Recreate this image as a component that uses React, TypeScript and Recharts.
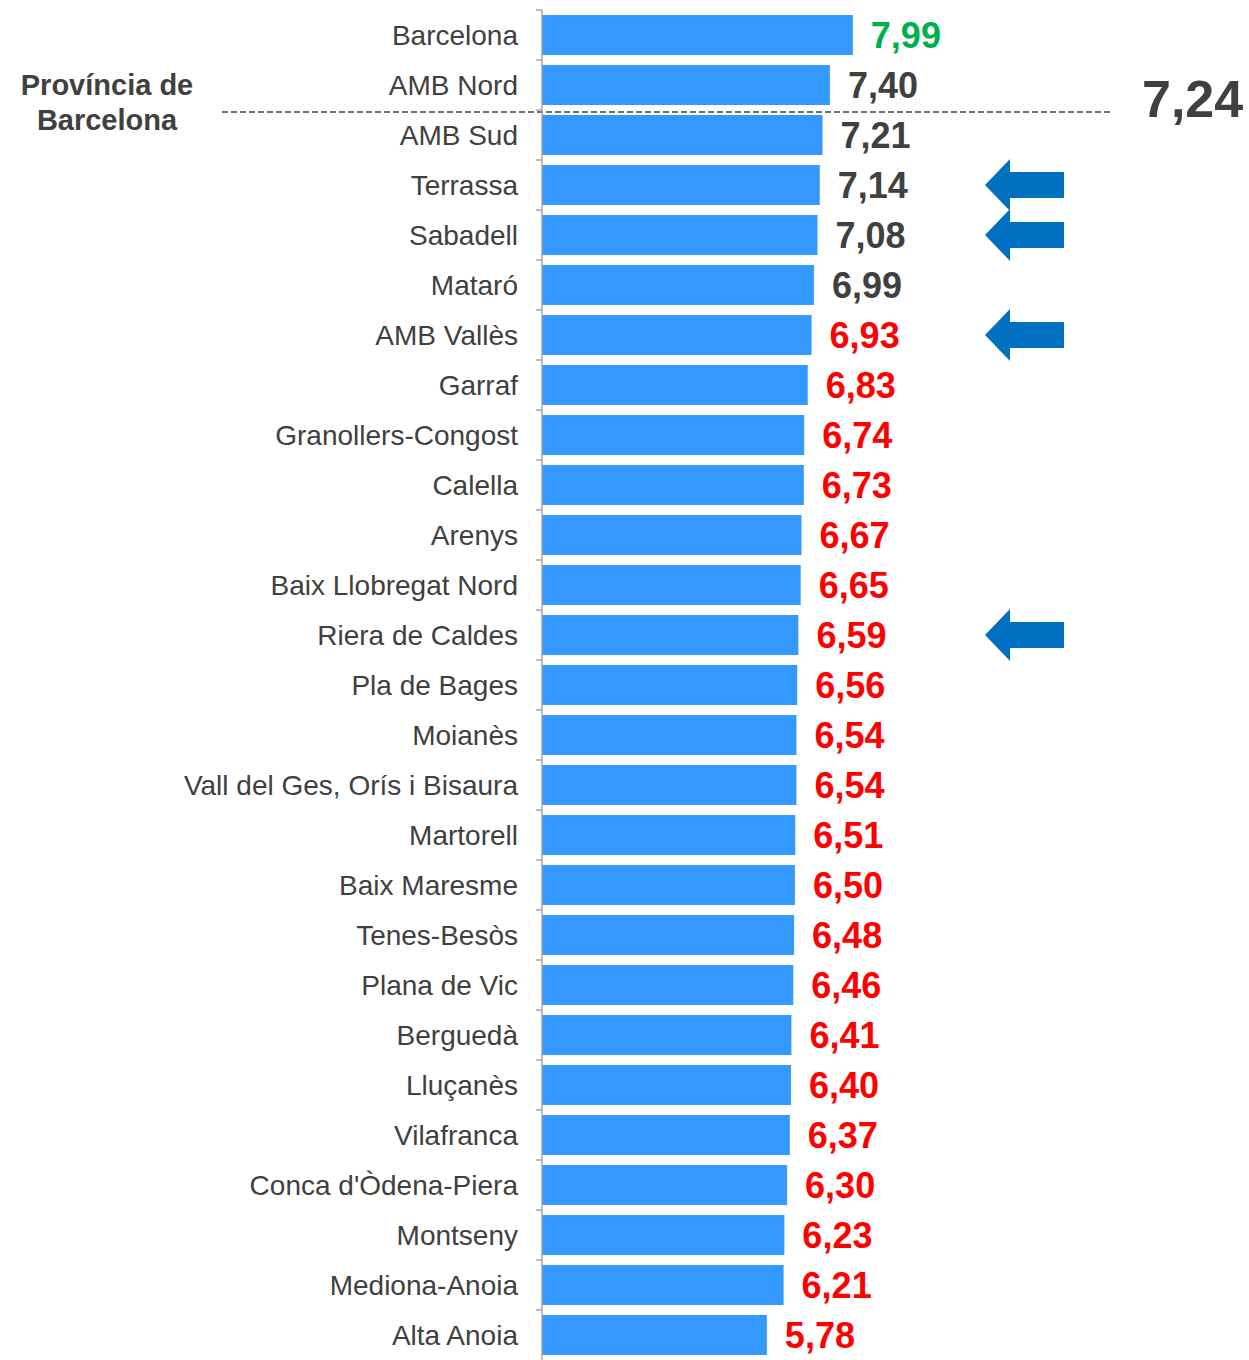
import React from 'react';
import { BarChart, Bar, XAxis, YAxis, LabelList, ReferenceLine } from 'recharts';

const categories = [
  'Barcelona', 'AMB Nord', 'AMB Sud', 'Terrassa', 'Sabadell', 'Mataró', 'AMB Vallès', 'Garraf',
  'Granollers-Congost', 'Calella', 'Arenys', 'Baix Llobregat Nord', 'Riera de Caldes', 'Pla de Bages',
  'Moianès', 'Vall del Ges, Orís i Bisaura', 'Martorell', 'Baix Maresme', 'Tenes-Besòs', 'Plana de Vic',
  'Berguedà', 'Lluçanès', 'Vilafranca', "Conca d'Òdena-Piera", 'Montseny', 'Mediona-Anoia', 'Alta Anoia',
];
const values = [
  7.99, 7.40, 7.21, 7.14, 7.08, 6.99, 6.93, 6.83, 6.74, 6.73, 6.67, 6.65, 6.59, 6.56,
  6.54, 6.54, 6.51, 6.50, 6.48, 6.46, 6.41, 6.40, 6.37, 6.30, 6.23, 6.21, 5.78,
];
const provinceAverage = 7.24;
const provinceLabel = ['Província de', 'Barcelona'];
const arrowCategories = ['Terrassa', 'Sabadell', 'AMB Vallès', 'Riera de Caldes'];

const data = categories.map((name, i) => ({ name, value: values[i] }));
const averageRow = categories.find((_, i) => values[i] < provinceAverage) as string;

const W = 1249;
const H = 1360;
const MARGIN = { top: 10, right: 139, bottom: 0, left: 0 };
const Y_AXIS_W = 542;
const AXIS_X = MARGIN.left + Y_AXIS_W;
const BAND = (H - MARGIN.top - MARGIN.bottom) / categories.length;
const FONT = '"Liberation Sans", Arial, sans-serif';
const TEXT = '#404040';
const AXIS_GRAY = '#A6A6A6';
const ARROW_X = 985;

const fmt = (v: number) => v.toFixed(2).replace('.', ',');
const valueColor = (v: number) => (v >= 7.5 ? '#00B050' : v >= provinceAverage - 0.3 ? TEXT : '#FF0000');

const CategoryTick = (props: any) => {
  const { y, payload } = props;
  const top = y - BAND / 2;
  return (
    <g>
      <line x1={AXIS_X - 6} x2={AXIS_X} y1={top} y2={top} stroke={AXIS_GRAY} strokeWidth={1.5} />
      <text
        x={AXIS_X - 24}
        y={y}
        textAnchor="end"
        dominantBaseline="central"
        fontSize={28}
        fontFamily={FONT}
        fill={TEXT}
      >
        {payload.value}
      </text>
    </g>
  );
};

const ValueLabel = (props: any) => {
  const vb = props.viewBox || props;
  const x = Number(vb.x ?? props.x);
  const y = Number(vb.y ?? props.y);
  const width = Number(vb.width ?? props.width);
  const height = Number(vb.height ?? props.height);
  const v = Number(props.value);
  return (
    <text
      x={x + width + 18}
      y={y + height / 2}
      textAnchor="start"
      dominantBaseline="central"
      fontSize={36}
      fontWeight="bold"
      fontFamily={FONT}
      fill={valueColor(v)}
    >
      {fmt(v)}
    </text>
  );
};

const ArrowLabel = (props: any) => {
  if (!arrowCategories.includes(props.value)) return null;
  const vb = props.viewBox || props;
  const y = Number(vb.y ?? props.y);
  const height = Number(vb.height ?? props.height);
  const cy = y + height / 2;
  const x0 = ARROW_X;
  const pts = [
    [x0, cy],
    [x0 + 25, cy - 26],
    [x0 + 25, cy - 13],
    [x0 + 79, cy - 13],
    [x0 + 79, cy + 13],
    [x0 + 25, cy + 13],
    [x0 + 25, cy + 26],
  ]
    .map((p) => p.join(','))
    .join(' ');
  return <polygon points={pts} fill="#0070C0" />;
};

const AverageLine = (props: any) => {
  const x1 = Number(props.x1);
  const x2 = Number(props.x2);
  const y = Number(props.y1) + 2;
  return (
    <g>
      <line x1={x1 - 320} x2={x2} y1={y} y2={y} stroke={TEXT} strokeWidth={1.5} strokeDasharray="6 3" />
      <text
        x={x2 + 32}
        y={y - 13}
        textAnchor="start"
        dominantBaseline="central"
        fontSize={52}
        fontWeight="bold"
        fontFamily={FONT}
        fill={TEXT}
      >
        {fmt(provinceAverage)}
      </text>
      {provinceLabel.map((line, i) => (
        <text
          key={line}
          x={x1 - 435}
          y={y - 27 + i * 35}
          textAnchor="middle"
          dominantBaseline="central"
          fontSize={29}
          fontWeight="bold"
          fontFamily={FONT}
          fill={TEXT}
        >
          {line}
        </text>
      ))}
    </g>
  );
};

export default function App() {
  return (
    <div style={{ width: W, height: H }}>
      <style>{'body{margin:0}'}</style>
      <BarChart
        width={W}
        height={H}
        data={data}
        layout="vertical"
        margin={MARGIN}
        barCategoryGap="10%"
      >
        <XAxis type="number" domain={[0, 14.6]} hide />
        <YAxis
          type="category"
          dataKey="name"
          width={Y_AXIS_W}
          interval={0}
          axisLine={{ stroke: AXIS_GRAY, strokeWidth: 1.5 }}
          tickLine={false}
          tick={<CategoryTick />}
        />
        <Bar dataKey="value" fill="#3399FF" isAnimationActive={false}>
          <LabelList dataKey="value" content={<ValueLabel />} />
          <LabelList dataKey="name" content={<ArrowLabel />} />
        </Bar>
        <ReferenceLine y={averageRow} position="start" shape={<AverageLine />} />
      </BarChart>
    </div>
  );
}
